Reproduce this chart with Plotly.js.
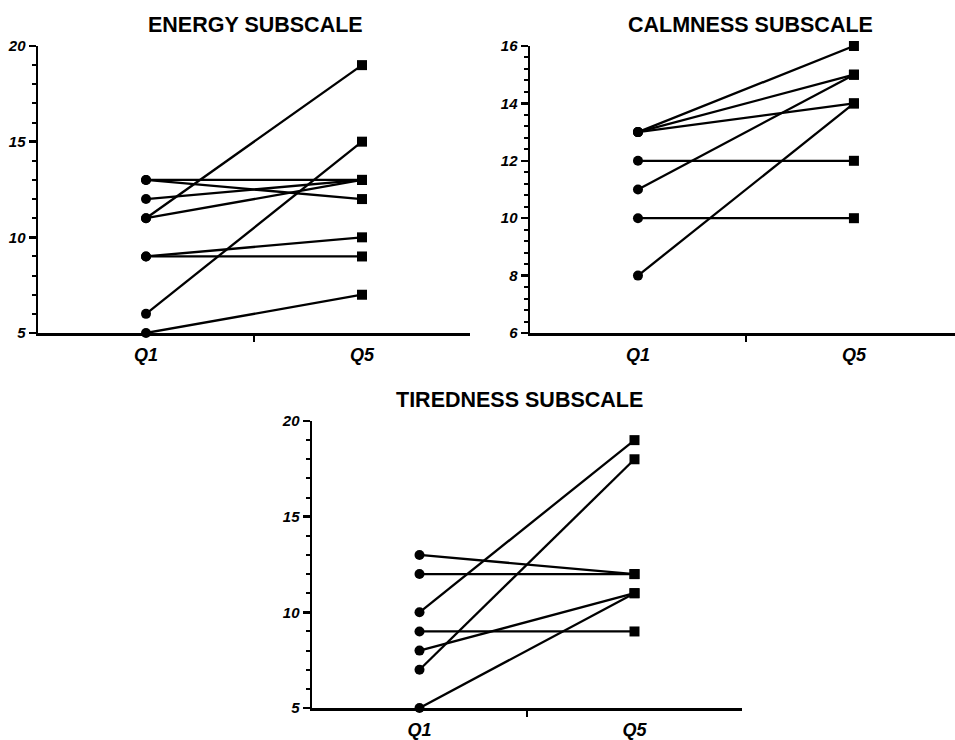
<!DOCTYPE html>
<html>
<head>
<meta charset="utf-8">
<script src="https://cdn.plot.ly/plotly-3.0.1.min.js"></script>
<style>html,body{margin:0;padding:0;background:#fff;}#chart{width:955px;height:740px;}</style>
</head>
<body>
<div id="chart"></div>
<script>
// Category labels
const timepoints = ['Q1', 'Q5'];
// Energy subscale: each participant's Q1 and Q5 score
const energyQ1 = [11, 6, 13, 13, 12, 11, 9, 9, 5];
const energyQ5 = [19, 15, 13, 12, 13, 13, 10, 9, 7];
// Calmness subscale
const calmQ1 = [13, 13, 13, 12, 11, 10, 8];
const calmQ5 = [16, 15, 14, 12, 15, 10, 14];
// Tiredness subscale
const tiredQ1 = [13, 12, 10, 9, 8, 7, 5];
const tiredQ5 = [12, 12, 19, 9, 11, 18, 11];
// Titles and y tick labels
const titles = ['ENERGY SUBSCALE', 'CALMNESS SUBSCALE', 'TIREDNESS SUBSCALE'];
const energyTicks = [5, 10, 15, 20];
const calmTicks = [6, 8, 10, 12, 14, 16];
const tiredTicks = [5, 10, 15, 20];

const xPos = [1, 2];
const traces = [];
function addPanel(q1, q5, ax) {
  for (let i = 0; i < q1.length; i++) {
    traces.push({
      x: xPos, y: [q1[i], q5[i]],
      xaxis: 'x' + ax, yaxis: 'y' + ax,
      type: 'scatter', mode: 'lines+markers',
      line: {color: '#000', width: 2.3},
      marker: {color: '#000', size: 10, symbol: ['circle', 'square']},
      cliponaxis: false, showlegend: false, hoverinfo: 'skip'
    });
  }
}
addPanel(energyQ1, energyQ5, '');
addPanel(calmQ1, calmQ5, '2');
addPanel(tiredQ1, tiredQ5, '3');

const tickFontY = {family: 'Liberation Sans, Arial, sans-serif', size: 15, color: '#000', weight: 'bold', style: 'italic'};
const tickFontX = {family: 'Liberation Sans, Arial, sans-serif', size: 18, color: '#000', weight: 'bold', style: 'italic'};

function xax(domain, range, anchor) {
  return {
    domain: domain, range: range, anchor: anchor,
    tickmode: 'array', tickvals: xPos, ticktext: timepoints,
    ticks: '', ticklabelstandoff: 4,
    minor: {tickmode: 'array', tickvals: [1.5], ticks: 'outside', ticklen: 6, tickwidth: 2.5, tickcolor: '#000', showgrid: false},
    showline: true, linecolor: '#000', linewidth: 2.5,
    showgrid: false, zeroline: false, tickfont: tickFontX, fixedrange: true
  };
}
function yax(domain, range, vals, minorStep, anchor) {
  return {
    domain: domain, range: range, anchor: anchor,
    tickmode: 'array', tickvals: vals, ticktext: vals.map(String),
    ticks: 'outside', ticklen: 7, tickwidth: 2.5, tickcolor: '#000',
    minor: {tick0: range[0], dtick: minorStep, ticks: 'outside', ticklen: 4, tickwidth: 2, tickcolor: '#000', showgrid: false},
    showline: true, linecolor: '#000', linewidth: 2.5,
    showgrid: false, zeroline: false, tickfont: tickFontY, fixedrange: true
  };
}

const W = 955, H = 740;
const layout = {
  width: W, height: H,
  margin: {l: 0, r: 0, t: 0, b: 0},
  paper_bgcolor: '#fff', plot_bgcolor: '#fff',
  showlegend: false,
  xaxis: xax([38 / W, 470 / W], [0.5, 2.5], 'y'),
  yaxis: yax([1 - 333 / H, 1 - 46 / H], [5, 20], energyTicks, 1, 'x'),
  xaxis2: xax([530 / W, 1], [0.5, 2.468], 'y2'),
  yaxis2: yax([1 - 333 / H, 1 - 46 / H], [6, 16], calmTicks, 0.4, 'x2'),
  xaxis3: xax([312 / W, 742 / W], [0.5, 2.5], 'y3'),
  yaxis3: yax([1 - 708 / H, 1 - 421 / H], [5, 20], tiredTicks, 1, 'x3'),
  annotations: [
    {text: titles[0], x: 255 / W, y: 1 - 25 / H},
    {text: titles[1], x: 750 / W, y: 1 - 25 / H},
    {text: titles[2], x: 519 / W, y: 1 - 400 / H}
  ].map(a => Object.assign(a, {
    xref: 'paper', yref: 'paper', xanchor: 'center', yanchor: 'middle', showarrow: false,
    font: {family: 'Liberation Sans, Arial, sans-serif', size: 21.5, color: '#000', weight: 'bold'}
  }))
};

Plotly.newPlot('chart', traces, layout, {staticPlot: true, displayModeBar: false});
</script>
</body>
</html>
